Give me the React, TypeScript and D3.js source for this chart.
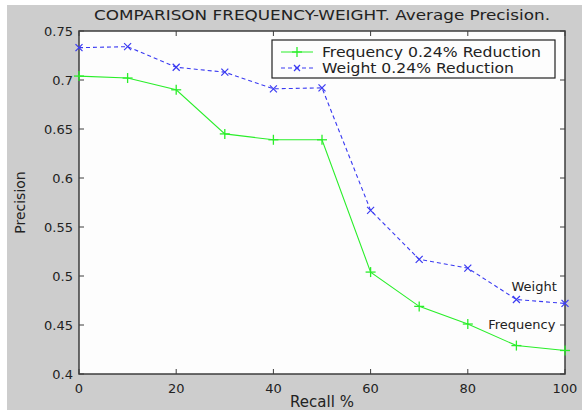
import { useEffect, useRef } from "react";
import * as d3 from "d3";

const recall = [0, 10, 20, 30, 40, 50, 60, 70, 80, 90, 100];
const frequency = [0.704, 0.702, 0.69, 0.645, 0.639, 0.639, 0.504, 0.469, 0.451, 0.429, 0.424];
const weight = [0.733, 0.734, 0.713, 0.708, 0.691, 0.692, 0.567, 0.517, 0.508, 0.476, 0.472];
const xTicks = [0, 20, 40, 60, 80, 100];
const yTicks = [0.4, 0.45, 0.5, 0.55, 0.6, 0.65, 0.7, 0.75];
const yTickLabels = ["0.4", "0.45", "0.5", "0.55", "0.6", "0.65", "0.7", "0.75"];
const seriesNames = ["Frequency 0.24% Reduction", "Weight 0.24% Reduction"];

const App = () => {
  const ref = useRef<SVGSVGElement>(null);

  useEffect(() => {
    const W = 582, H = 410;
    const left = 79, right = 565, top = 31, bottom = 374;
    const font = "'DejaVu Sans', Verdana, sans-serif";
    const ink = "#222";
    const axisCol = "#3c3c3c";
    const green = "#2aee2a";
    const blue = "#3a3af2";

    const svg = d3.select(ref.current);
    svg.selectAll("*").remove();

    svg.append("rect").attr("width", W).attr("height", H).attr("fill", "#fff");
    svg.append("rect").attr("x", 7).attr("y", 5).attr("width", W - 7).attr("height", H - 5).attr("fill", "#cdcdcd");
    svg.append("rect").attr("x", left).attr("y", top).attr("width", right - left).attr("height", bottom - top).attr("fill", "#fdfdfd");

    const x = d3.scaleLinear().domain([0, 100]).range([left, right]);
    const y = d3.scaleLinear().domain([0.4, 0.75]).range([bottom, top]);

    const tl = 5;
    // ticks inside on all four sides
    const g = svg.append("g").attr("stroke", axisCol).attr("stroke-width", 1);
    xTicks.forEach((t) => {
      g.append("line").attr("x1", x(t)).attr("x2", x(t)).attr("y1", bottom).attr("y2", bottom - tl);
      g.append("line").attr("x1", x(t)).attr("x2", x(t)).attr("y1", top).attr("y2", top + tl);
    });
    yTicks.forEach((t) => {
      g.append("line").attr("x1", left).attr("x2", left + tl).attr("y1", y(t)).attr("y2", y(t));
      g.append("line").attr("x1", right).attr("x2", right - tl).attr("y1", y(t)).attr("y2", y(t));
    });
    svg.append("rect").attr("x", left).attr("y", top).attr("width", right - left).attr("height", bottom - top)
      .attr("fill", "none").attr("stroke", axisCol).attr("stroke-width", 1.5);

    const txt = svg.append("g").attr("font-family", font).attr("fill", ink).attr("font-size", 13);
    xTicks.forEach((t) => {
      txt.append("text").attr("x", x(t)).attr("y", bottom + 19).attr("text-anchor", "middle").text(String(t));
    });
    yTicks.forEach((t, i) => {
      txt.append("text").attr("x", left - 6).attr("y", y(t) + 5).attr("text-anchor", "end").text(yTickLabels[i]);
    });
    txt.append("text").attr("x", (left + right) / 2).attr("y", 20).attr("text-anchor", "middle")
      .attr("font-size", 14).attr("textLength", 456).attr("lengthAdjust", "spacingAndGlyphs")
      .text("COMPARISON FREQUENCY-WEIGHT. Average Precision.");
    txt.append("text").attr("x", (left + right) / 2).attr("y", 407).attr("text-anchor", "middle").attr("font-size", 15).text("Recall %");
    txt.append("text").attr("transform", `translate(25,${(top + bottom) / 2}) rotate(-90)`)
      .attr("text-anchor", "middle").attr("font-size", 14).text("Precision");

    const line = d3.line<number>().x((_, i) => x(recall[i])).y((d) => y(d));

    svg.append("path").datum(frequency).attr("d", line).attr("fill", "none").attr("stroke", green).attr("stroke-width", 1.1);
    svg.append("path").datum(weight).attr("d", line).attr("fill", "none").attr("stroke", blue).attr("stroke-width", 1.1)
      .attr("stroke-dasharray", "4,3");

    const plus = (gg: d3.Selection<SVGGElement, unknown, null, undefined>, cx: number, cy: number, s: number) => {
      gg.append("line").attr("x1", cx - s).attr("x2", cx + s).attr("y1", cy).attr("y2", cy);
      gg.append("line").attr("x1", cx).attr("x2", cx).attr("y1", cy - s).attr("y2", cy + s);
    };
    const cross = (gg: d3.Selection<SVGGElement, unknown, null, undefined>, cx: number, cy: number, s: number) => {
      gg.append("line").attr("x1", cx - s).attr("x2", cx + s).attr("y1", cy - s).attr("y2", cy + s);
      gg.append("line").attr("x1", cx - s).attr("x2", cx + s).attr("y1", cy + s).attr("y2", cy - s);
    };
    const gm = svg.append("g").attr("stroke", green).attr("stroke-width", 1.3);
    frequency.forEach((v, i) => plus(gm, x(recall[i]), y(v), 5));
    const bm = svg.append("g").attr("stroke", blue).attr("stroke-width", 1.2);
    weight.forEach((v, i) => cross(bm, x(recall[i]), y(v), 3.5));

    // in-plot annotations
    const ann = svg.append("g").attr("font-family", font).attr("fill", ink).attr("font-size", 13);
    ann.append("text").attr("x", x(89)).attr("y", y(0.4887)).attr("dominant-baseline", "middle").text("Weight");
    ann.append("text").attr("x", x(84.2)).attr("y", y(0.449)).attr("dominant-baseline", "middle").text("Frequency");

    // legend
    const lx = 272, ly = 40, lw = 283, lh = 38;
    svg.append("rect").attr("x", lx).attr("y", ly).attr("width", lw).attr("height", lh)
      .attr("fill", "#fdfdfd").attr("stroke", "#222").attr("stroke-width", 1.2);
    const lg = svg.append("g");
    lg.append("line").attr("x1", 281).attr("x2", 313).attr("y1", 52).attr("y2", 52).attr("stroke", green);
    const lgm = lg.append("g").attr("stroke", green).attr("stroke-width", 1.3);
    plus(lgm, 297, 52, 5);
    lg.append("line").attr("x1", 281).attr("x2", 313).attr("y1", 68).attr("y2", 68).attr("stroke", blue)
      .attr("stroke-dasharray", "4,3");
    const lbm = lg.append("g").attr("stroke", blue).attr("stroke-width", 1.2);
    cross(lbm, 297, 68, 3);
    const lt = svg.append("g").attr("font-family", font).attr("fill", ink).attr("font-size", 14);
    const lens = [219, 192];
    seriesNames.forEach((n, i) => {
      lt.append("text").attr("x", 322).attr("y", 52 + i * 16 + 5)
        .attr("textLength", lens[i]).attr("lengthAdjust", "spacingAndGlyphs").text(n);
    });
  }, []);

  return (
    <div style={{ position: "fixed", left: 0, top: 0 }}>
      <svg ref={ref} width={582} height={410} style={{ display: "block" }} />
    </div>
  );
};

export default App;
